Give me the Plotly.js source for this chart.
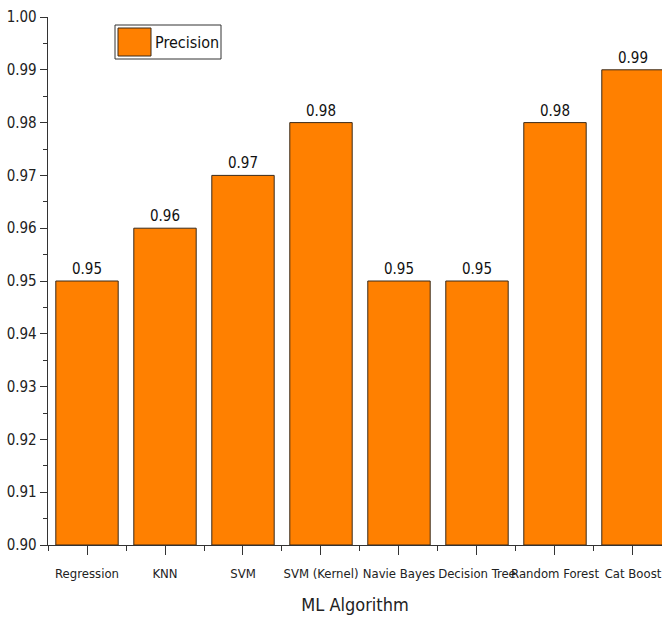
<!DOCTYPE html>
<html>
<head>
<meta charset="utf-8">
<script src="https://cdn.plot.ly/plotly-3.0.1.min.js"></script>
<style>html,body{margin:0;padding:0;background:#fff;}#chart{width:662px;height:627px;}</style>
</head>
<body>
<div id="chart"></div>
<script>
const categories = ["Regression", "KNN", "SVM", "SVM (Kernel)", "Navie Bayes", "Decision Tree", "Random Forest", "Cat Boost"];
const precision = [0.95, 0.96, 0.97, 0.98, 0.95, 0.95, 0.98, 0.99];
const yTicks = [0.90, 0.91, 0.92, 0.93, 0.94, 0.95, 0.96, 0.97, 0.98, 0.99, 1.00];

const FONT = '"Liberation Sans Narrow", "Arial Narrow", "DejaVu Sans Condensed", sans-serif';
const xIdx = categories.map((_, i) => i);

const trace = {
  type: 'bar',
  x: xIdx,
  y: precision.map(v => v - 0.9),
  base: 0.9,
  width: 0.8,
  marker: {color: '#FF8000', line: {color: '#3a2a1a', width: 1}},
  text: precision.map(v => v.toFixed(2)),
  textposition: 'outside',
  textfont: {family: FONT, size: 15, color: '#111'},
  cliponaxis: false,
  name: 'Precision',
  hoverinfo: 'none',
  showlegend: false
};

const layout = {
  width: 662, height: 627,
  margin: {l: 48, r: 0, t: 17, b: 82},
  paper_bgcolor: '#fff', plot_bgcolor: '#fff',
  font: {family: FONT, color: '#222'},
  xaxis: {
    range: [-0.5, 7.372],
    tickvals: xIdx, ticktext: categories, tickangle: 0,
    ticklabeloverflow: 'allow', ticklabelstandoff: 7,
    ticks: 'outside', ticklen: 9, tickwidth: 1, tickcolor: '#333',
    minor: {tick0: 0.5, dtick: 1, ticks: 'outside', ticklen: 5, tickwidth: 1, tickcolor: '#333'},
    showline: true, linecolor: '#333', linewidth: 1.3,
    showgrid: false, zeroline: false,
    tickfont: {family: FONT, size: 13, color: '#222'},
    title: {text: 'ML Algorithm', font: {family: FONT, size: 18, color: '#222'}, standoff: 18},
    fixedrange: true
  },
  yaxis: {
    range: [0.9, 1.0],
    tickvals: yTicks,
    ticktext: yTicks.map(v => v.toFixed(2)),
    ticks: 'outside', ticklen: 7, tickwidth: 1, tickcolor: '#333',
    minor: {tick0: 0.905, dtick: 0.01, ticks: 'outside', ticklen: 4, tickwidth: 1, tickcolor: '#333'},
    showline: true, linecolor: '#333', linewidth: 1.3,
    showgrid: false, zeroline: false,
    tickfont: {family: FONT, size: 15, color: '#222'},
    fixedrange: true
  },
  shapes: [
    {type: 'rect', xref: 'paper', yref: 'paper', x0: 67/614, x1: 173/614, y0: 1 - 59/528 + 17/528, y1: 1 - 25/528 + 17/528,
     line: {color: '#333', width: 1}, fillcolor: 'rgba(255,255,255,0)'},
    {type: 'rect', xref: 'paper', yref: 'paper', x0: 70/614, x1: 103/614, y0: 1 - 56/528 + 17/528, y1: 1 - 28/528 + 17/528,
     line: {color: '#3a2a1a', width: 1}, fillcolor: '#FF8000'}
  ],
  annotations: [
    {xref: 'paper', yref: 'paper', x: 105/614, y: 1 - 42/528 + 17/528, xanchor: 'left', yanchor: 'middle',
     text: 'Precision', showarrow: false, font: {family: FONT, size: 16, color: '#111'}}
  ],
  showlegend: false
};

Plotly.newPlot('chart', [trace], layout, {displayModeBar: false, staticPlot: true});
</script>
</body>
</html>
